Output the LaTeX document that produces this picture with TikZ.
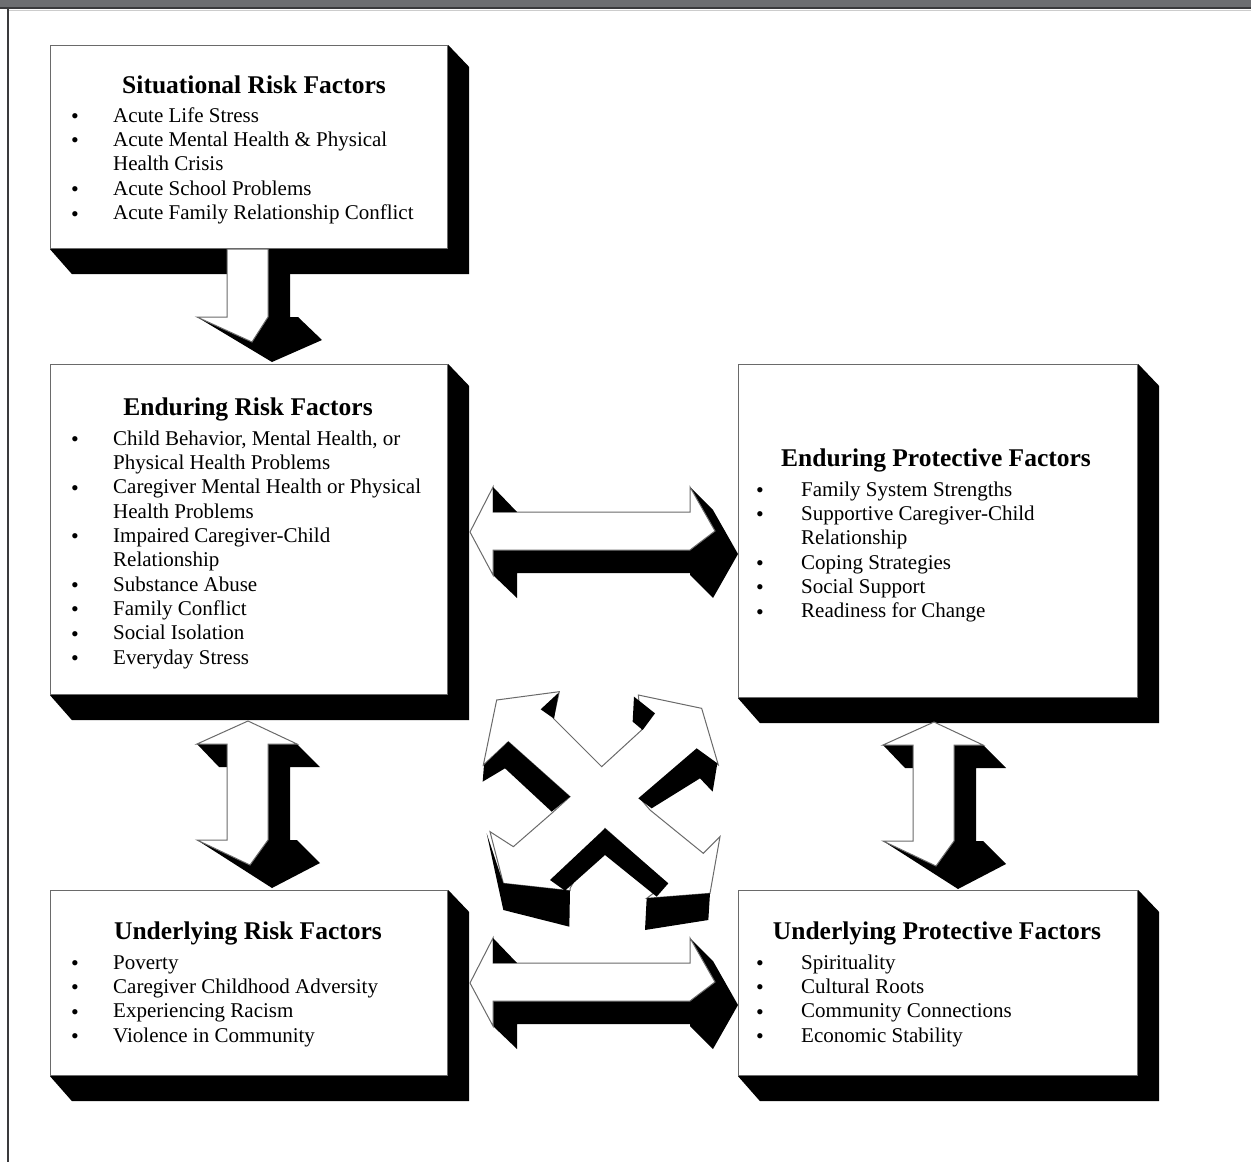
\documentclass[tikz,border=0pt]{standalone}
\usepackage{fontspec}
\setmainfont{Liberation Serif}
\usetikzlibrary{calc,backgrounds}
\definecolor{topbar}{HTML}{6D6E71}
\definecolor{darkline}{HTML}{3A3A3C}
\definecolor{edgegray}{HTML}{6A6A6A}
\newcommand\itm[5]{\node[bul] (#1b) at (#2,#4) {•};\node[itm] (#1) at (#3,#4) {#5};}
\newcommand\cnt[4]{\node[itm] (#1) at (#2,#3) {#4};}
\newcommand\boxshadow[1]{\fill[shadowfill] (#1.north east) -- ++(21,22) -- ($(#1.south east)+(21,25)$) -- ($(#1.south west)+(22,25)$) -- (#1.south west) -- cycle;}
\begin{document}
\begin{tikzpicture}[x=1pt,y=-1pt,
  frontbox/.style={draw=edgegray, line width=1.2pt, fill=white, inner sep=0pt, anchor=north west},
  shadowfill/.style={fill=black},
  arrowface/.style={fill=white, draw=edgegray, line width=1pt, line join=miter},
  arrowdark/.style={fill=black},
  ttl/.style={font=\fontsize{25.5}{30}\selectfont\bfseries, anchor=base, inner sep=0pt},
  itm/.style={font=\fontsize{21}{24}\selectfont, anchor=base west, inner sep=0pt},
  bul/.style={font=\fontsize{22}{24}\selectfont, anchor=base, inner sep=0pt, yshift=-1.5pt}]
\useasboundingbox (0,0) rectangle (1251,1162);

% boxes (front faces)
\node[frontbox, minimum width=397pt, minimum height=203pt] (b1) at (50,45) {};
\node[frontbox, minimum width=397pt, minimum height=330pt] (b2) at (50,364) {};
\node[frontbox, minimum width=399pt, minimum height=333pt] (b3) at (738,364) {};
\node[frontbox, minimum width=397pt, minimum height=185pt] (b4) at (50,890) {};
\node[frontbox, minimum width=399pt, minimum height=185pt] (b5) at (738,890) {};

\begin{pgfonlayer}{background}
  \fill[white] (0,0) rectangle (1251,1162);
  \boxshadow{b1}
  \boxshadow{b2}
  \boxshadow{b3}
  \boxshadow{b4}
  \boxshadow{b5}
\end{pgfonlayer}

% frame
\fill[topbar] (0,0) rectangle (1251,7.5);
\draw[darkline, line width=1.5pt] (0,8) -- (1251,8);
\draw[gray!40, line width=1pt] (9,10) -- (1251,10);
\draw[darkline, line width=2.5pt] (8,7) -- (8,1162);

% texts box 1
\node[ttl] (t1) at (254,93.5) {Situational Risk Factors};
\itm{i11}{75}{113}{122}{Acute Life Stress}
\itm{i12}{75}{113}{146.4}{Acute Mental Health \& Physical}
\cnt{i12c}{113}{170.8}{Health Crisis}
\itm{i13}{75}{113}{195.2}{Acute School Problems}
\itm{i14}{75}{113}{219.6}{Acute Family Relationship Conflict}

% texts box 2
\node[ttl] (t2) at (248,415.5) {Enduring Risk Factors};
\itm{i21}{75}{113}{445}{Child Behavior, Mental Health, or}
\cnt{i21c}{113}{469.35}{Physical Health Problems}
\itm{i22}{75}{113}{493.7}{Caregiver Mental Health or Physical}
\cnt{i22c}{113}{518.05}{Health Problems}
\itm{i23}{75}{113}{542.4}{Impaired Caregiver-Child}
\cnt{i23c}{113}{566.75}{Relationship}
\itm{i24}{75}{113}{591.1}{Substance Abuse}
\itm{i25}{75}{113}{615.45}{Family Conflict}
\itm{i26}{75}{113}{639.8}{Social Isolation}
\itm{i27}{75}{113}{664.15}{Everyday Stress}

% texts box 3
\node[ttl] (t3) at (936,466.5) {Enduring Protective Factors};
\itm{i31}{760}{801}{496}{Family System Strengths}
\itm{i32}{760}{801}{520.35}{Supportive Caregiver-Child}
\cnt{i32c}{801}{544.7}{Relationship}
\itm{i33}{760}{801}{569.05}{Coping Strategies}
\itm{i34}{760}{801}{593.4}{Social Support}
\itm{i35}{760}{801}{617.75}{Readiness for Change}

% texts box 4
\node[ttl] (t4) at (248,939.5) {Underlying Risk Factors};
\itm{i41}{75}{113}{969}{Poverty}
\itm{i42}{75}{113}{993.35}{Caregiver Childhood Adversity}
\itm{i43}{75}{113}{1017.7}{Experiencing Racism}
\itm{i44}{75}{113}{1042.05}{Violence in Community}

% texts box 5
\node[ttl] (t5) at (937,939.5) {Underlying Protective Factors};
\itm{i51}{760}{801}{969}{Spirituality}
\itm{i52}{760}{801}{993.35}{Cultural Roots}
\itm{i53}{760}{801}{1017.7}{Community Connections}
\itm{i54}{760}{801}{1042.05}{Economic Stability}

% arrow A: situational -> enduring risk
\fill[arrowdark] (268,249) -- (290,249) -- (290,317) -- (298,317) -- (322,340) -- (272,362) -- (197,317) -- (252,342) -- (268,317) -- cycle;
\draw[arrowface] (227,249) -- (268,249) -- (268,317) -- (252,342) -- (197,317) -- (227,317) -- cycle;

% vertical double arrows
\foreach \dx/\dy in {0/0, 686/1} {
  \begin{scope}[shift={(\dx,\dy)}]
    \fill[arrowdark] (268,744) -- (297,744) -- (320,767) -- (290,767) -- (290,840) -- (297,840) -- (320,863) -- (272,888) -- (197,840) -- (250,865) -- (268,840) -- cycle;
    \fill[arrowdark] (197,744) -- (227,744) -- (227,767) -- (219,767) -- cycle;
    \draw[arrowface] (248,721) -- (297,744) -- (268,744) -- (268,840) -- (250,865) -- (197,840) -- (227,840) -- (227,744) -- (197,744) -- cycle;
  \end{scope}
}

% horizontal double arrows
\foreach \dy in {0, 451} {
  \begin{scope}[shift={(0,\dy)}]
    \fill[arrowdark] (493,550) -- (690,550) -- (715,531) -- (690,487) -- (713,510) -- (738,554) -- (713,598) -- (690,575) -- (690,573) -- (517,573) -- (517,598) -- (493,575) -- cycle;
    \draw[arrowface] (470,532) -- (493,487) -- (493,512) -- (690,512) -- (690,487) -- (715,531) -- (690,550) -- (493,550) -- (493,575) -- cycle;
    \fill[arrowdark] (493,487) -- (517,512) -- (493,512) -- cycle;
  \end{scope}
}

% crossing double arrows (X)
\begin{scope}[shift={(470,680)}, x=0.33333pt, y=-0.33333pt]
  \draw[arrowface] (80,60) -- (268,35) -- (250,115) -- (395,260) -- (515,150) -- (505,45) -- (695,85) -- (745,255) -- (680,210) -- (510,355) -- (540,390) -- (700,520) -- (750,470) -- (720,640) -- (530,655) -- (590,610) -- (405,445) -- (300,625) -- (300,632) -- (100,610) -- (60,455) -- (130,500) -- (245,400) -- (300,350) -- (115,185) -- (40,255) -- cycle;
  \fill[arrowdark] (212,88) -- (266,38) -- (252,116) -- cycle;
  \fill[arrowdark] (492,50) -- (555,100) -- (518,150) -- (488,125) -- cycle;
  \fill[arrowdark] (38,305) -- (42,255) -- (115,185) -- (300,350) -- (245,395) -- (105,265) -- cycle;
  \fill[arrowdark] (680,205) -- (742,250) -- (728,335) -- (690,295) -- (545,385) -- (505,355) -- cycle;
  \fill[arrowdark] (240,600) -- (405,445) -- (595,610) -- (560,650) -- (405,525) -- (285,632) -- cycle;
  \fill[arrowdark] (50,460) -- (100,610) -- (300,632) -- (298,740) -- (100,690) -- cycle;
  \fill[arrowdark] (530,655) -- (720,640) -- (715,720) -- (525,750) -- cycle;
\end{scope}
\end{tikzpicture}
\end{document}
